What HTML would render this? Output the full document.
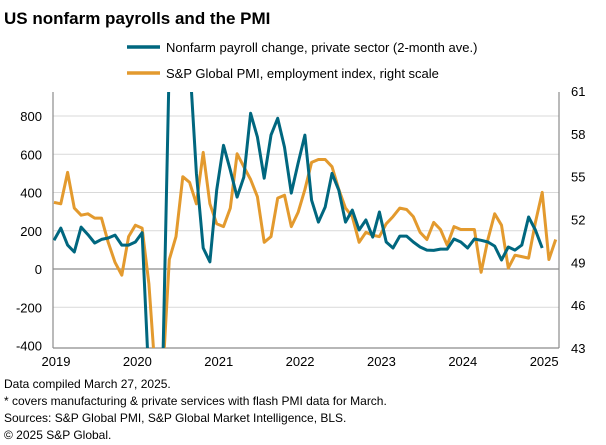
<!DOCTYPE html>
<html><head><meta charset="utf-8">
<style>
html,body{margin:0;padding:0;background:#fff;}
body{width:606px;height:445px;overflow:hidden;font-family:"Liberation Sans",Arial,sans-serif;}
svg{display:block;}
svg text{font-family:"Liberation Sans",Arial,sans-serif;}
</style></head>
<body>
<svg id="chart" width="606" height="445">
  <text x="4" y="24" font-size="17" font-weight="bold" fill="#000">US nonfarm payrolls and the PMI</text>
  <g>
    <line x1="127" y1="47" x2="160" y2="47" stroke="#00677f" stroke-width="3.5"/>
    <text x="166" y="52" font-size="13" fill="#000">Nonfarm payroll change, private sector (2-month ave.)</text>
    <line x1="127" y1="73" x2="160" y2="73" stroke="#e39a2e" stroke-width="3.5"/>
    <text x="166" y="78" font-size="13" fill="#000">S&amp;P Global PMI, employment index, right scale</text>
  </g>
  <g id="grid"></g>
  <g id="axes"></g>
  <defs><clipPath id="plotclip"><rect x="53" y="92" width="506" height="256"/></clipPath></defs>
  <g id="series" clip-path="url(#plotclip)"></g>
  <g font-size="12" fill="#000">
    <text x="4" y="388">Data compiled March 27, 2025.</text>
    <text x="4" y="405">* covers manufacturing &amp; private services with flash PMI data for March.</text>
    <text x="4" y="422">Sources: S&amp;P Global PMI, S&amp;P Global Market Intelligence, BLS.</text>
    <text x="4" y="439">© 2025 S&amp;P Global.</text>
  </g>
</svg>
<script>
// Monthly data from Jan 2019
const leftTicks = [-400, -200, 0, 200, 400, 600, 800];
const rightTicks = [43, 46, 49, 52, 55, 58, 61];
const yearLabels = ["2019","2020","2021","2022","2023","2024","2025"];
const payrolls = [150,214,125,89,219,180,136,155,162,177,125,125,
  141,190,-700,-10000,-4000,4000,1500,1100,1200,500,110,37,
  413,647,517,376,480,814,690,475,700,788,637,
  397,553,700,360,245,324,500,412,245,308,204,256,
  167,298,141,110,172,172,141,115,99,97,104,104,
  157,141,110,157,150,141,120,47,115,99,125,272,
  204,110];
const pmi = [53.2,53.1,55.3,52.8,52.3,52.4,52.1,52.1,50.4,49.0,48.1,50.8,
  51.6,51.4,47.5,30,30,49.2,50.8,55.0,54.6,53.1,56.7,53.1,
  51.7,51.5,52.8,56.6,55.7,54.8,53.6,50.4,50.8,53.5,53.7,51.5,
  52.5,54.1,56.0,56.2,56.2,55.7,54.1,52.8,52.2,50.4,51.1,50.9,
  50.8,51.7,52.2,52.8,52.7,52.2,51.1,50.6,51.8,51.3,50.2,51.5,
  51.3,51.3,51.3,48.3,50.6,52.4,51.6,48.6,49.5,49.4,49.3,51.8,
  53.9,49.2,50.6];

const NS="http://www.w3.org/2000/svg";
const X0=54, STEP=6.78, LEFT=53, RIGHT=559, TOP=92, BOT=348;
function xAt(i){return X0+STEP*i;}
function clampY(y){return Math.max(60, Math.min(380, y));}
function yLeft(v){return 269 - v*(269-116)/800;}
function yRight(v){return BOT - (v-43)*(BOT-91)/18;}
function mk(tag,attrs,parent){const e=document.createElementNS(NS,tag);for(const k in attrs)e.setAttribute(k,attrs[k]);parent.appendChild(e);return e;}

const grid=document.getElementById('grid'), axes=document.getElementById('axes'), series=document.getElementById('series');
leftTicks.forEach(t=>{
  const y=yLeft(t);
  if(t!==-400){
    const l=mk('line',{x1:LEFT,x2:RIGHT,y1:y,y2:y,stroke:t===0?'#8c8c8c':'#d9d9d9','stroke-width':t===0?1.3:1},grid);
    
    
  }
  const tx=mk('text',{x:42,y:y+5,'text-anchor':'end','font-size':13,fill:'#000'},axes);
  tx.textContent=t;
  
  
});
rightTicks.forEach(t=>{
  const tx=mk('text',{x:571,y:yRight(t)+5,'font-size':13,fill:'#000'},axes);
  tx.textContent=t;
  
  
});
yearLabels.forEach((lab,k)=>{
  const tx=mk('text',{x:xAt(k*12)+2,y:366,'text-anchor':'middle','font-size':13,fill:'#000'},axes);
  tx.textContent=lab;
  
  
});
const la=mk('line',{x1:LEFT,x2:LEFT,y1:TOP,y2:BOT,stroke:'#8c8c8c','stroke-width':1.2},axes);


const ra=mk('line',{x1:RIGHT,x2:RIGHT,y1:TOP,y2:BOT,stroke:'#8c8c8c','stroke-width':1.2},axes);


const ba=mk('line',{x1:LEFT,x2:RIGHT,y1:BOT,y2:BOT,stroke:'#8c8c8c','stroke-width':1.2},axes);



const pPts=pmi.map((v,i)=>xAt(i).toFixed(1)+','+clampY(yRight(v)).toFixed(1)).join(' ');
const pl=mk('polyline',{points:pPts,fill:'none',stroke:'#e39a2e','stroke-width':3,'stroke-linejoin':'round'},series);


const bPts=payrolls.map((v,i)=>xAt(i).toFixed(1)+','+clampY(yLeft(v)).toFixed(1)).join(' ');
const bl=mk('polyline',{points:bPts,fill:'none',stroke:'#00677f','stroke-width':3,'stroke-linejoin':'round'},series);


</script>
</body></html>
